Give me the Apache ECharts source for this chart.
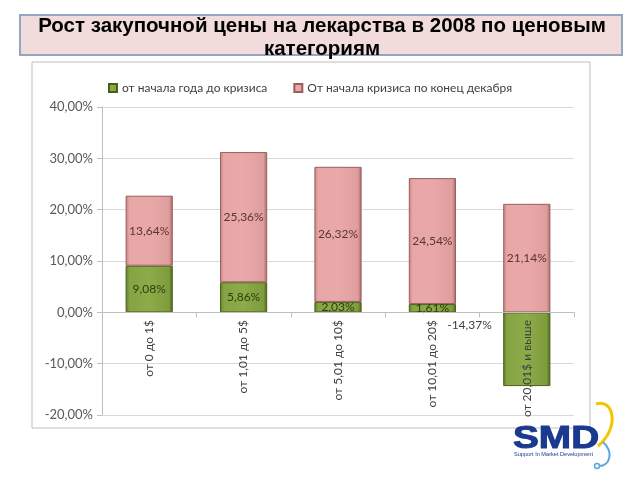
<!DOCTYPE html>
<html><head><meta charset="utf-8">
<script src="https://cdn.jsdelivr.net/npm/echarts@6/dist/echarts.min.js"></script>
<style>html,body{margin:0;padding:0;background:#fff}#c{width:640px;height:480px}</style>
</head><body><div id="c"></div>
<script>
var title = 'Рост закупочной цены на лекарства в 2008 по ценовым\nкатегориям';
var categories = ['от 0 до 1$', 'от 1,01 до 5$', 'от 5,01 до 10$', 'от 10,01 до 20$', 'от 20,01$ и выше'];
var seriesNames = ['от начала года до кризиса', 'От начала кризиса по конец декабря'];
var beforeCrisis = [9.08, 5.86, 2.03, 1.61, -14.37];
var afterCrisis = [13.64, 25.36, 26.32, 24.54, 21.14];

function fmt(v){ return v.toFixed(2).replace('.', ',') + '%'; }
var labelFont = 'Lato, "Open Sans", sans-serif';

var greenFill = {type:'linear',x:0,y:0,x2:1,y2:0,colorStops:[
  {offset:0,color:'#5e7a27'},{offset:0.08,color:'#86a443'},{offset:0.5,color:'#8cab49'},{offset:0.92,color:'#7f9c3d'},{offset:1,color:'#4c6419'}]};
var pinkFill = {type:'linear',x:0,y:0,x2:1,y2:0,colorStops:[
  {offset:0,color:'#c48181'},{offset:0.08,color:'#e8a6a6'},{offset:0.5,color:'#eaa9a9'},{offset:0.92,color:'#e09d9d'},{offset:1,color:'#a56767'}]};

var chart = echarts.init(document.getElementById('c'), null, {renderer:'canvas'});
chart.setOption({
  animation:false,
  backgroundColor:'#ffffff',
  graphic:[
    {type:'rect', shape:{x:20,y:15,width:602,height:40}, style:{fill:'#f2dcdb', stroke:'#95a3c4', lineWidth:2}, z:0},
    {type:'text', x:322, y:15, style:{text:title, fill:'#000', font:'bold 20.5px "Liberation Sans", Arial, sans-serif', align:'center', verticalAlign:'top', lineHeight:23}, z:1},
    {type:'rect', shape:{x:32,y:62,width:558,height:366}, style:{fill:'none', stroke:'#bfbfbf', lineWidth:1}, z:0},
    {type:'bezierCurve', shape:{x1:598,y1:446,cpx1:620,cpy1:428,cpx2:614,cpy2:398,x2:596,y2:404}, style:{stroke:'#f5c400', lineWidth:3, fill:'none'}, z:5},
    {type:'bezierCurve', shape:{x1:603,y1:442,cpx1:614,cpy1:452,cpx2:610,cpy2:466,x2:599,y2:466}, style:{stroke:'#5aa8dc', lineWidth:2, fill:'none'}, z:5},
    {type:'circle', shape:{cx:597,cy:466,r:2.5}, style:{fill:'#ffffff', stroke:'#5aa8dc', lineWidth:1.5}, z:6},
    {type:'text', x:513, y:439, scaleX:1.25, style:{text:'SMD', fill:'#1b3a8f', font:'bold 31px "Liberation Sans", Arial, sans-serif', verticalAlign:'middle', stroke:'#1b3a8f', lineWidth:1}, z:6},
    {type:'text', x:514, y:454, style:{text:'Support In Market Development', fill:'#1b3a8f', font:'5.6px "Liberation Sans", Arial, sans-serif', verticalAlign:'middle'}, z:6}
  ],
  legend:{
    data:seriesNames, top:77, left:103, itemWidth:8, itemHeight:8, itemGap:26,
    icon:'rect',
    textStyle:{fontFamily:labelFont, fontSize:12, color:'#404040'}
  },
  grid:{left:102, right:66, top:107, bottom:65, containLabel:false, outerBoundsMode:'none'},
  xAxis:{
    type:'category', data:categories, z:10,
    axisLine:{onZero:true, lineStyle:{color:'#bfbfbf'}},
    axisTick:{show:true, length:5, lineStyle:{color:'#bfbfbf'}},
    axisLabel:{rotate:90, fontFamily:labelFont, fontSize:12, color:'#404040', margin:-95, interval:0}
  },
  yAxis:{
    type:'value', min:-20, max:40, interval:10,
    axisLine:{show:true, lineStyle:{color:'#bfbfbf'}},
    axisTick:{show:true, length:5, lineStyle:{color:'#bfbfbf'}},
    splitLine:{lineStyle:{color:'#d9d9d9'}},
    axisLabel:{fontFamily:labelFont, fontSize:13, color:'#595959', margin:9,
      formatter:function(v){ return fmt(v); }}
  },
  series:[
    {name:seriesNames[0], type:'bar', stack:'a', barWidth:'50%', color:'#77933c',
     itemStyle:{color:greenFill, borderColor:'#4a5f1c', borderWidth:1},
     label:{show:true, position:'inside', fontFamily:labelFont, fontSize:12, color:'#2f3d0e',
       formatter:function(p){ return fmt(p.value); }},
     data:beforeCrisis.map(function(v){
       if (v < 0) return {value:v, label:{position:[-56,7], color:'#404040'}};
       return v;
     })},
    {name:seriesNames[1], type:'bar', stack:'a', barWidth:'50%', color:'#e6a3a3',
     itemStyle:{color:pinkFill, borderColor:'#9a5e5e', borderWidth:1},
     label:{show:true, position:'inside', fontFamily:labelFont, fontSize:12, color:'#5a3535',
       formatter:function(p){ return fmt(p.value); }},
     data:afterCrisis}
  ]
});
</script></body></html>
